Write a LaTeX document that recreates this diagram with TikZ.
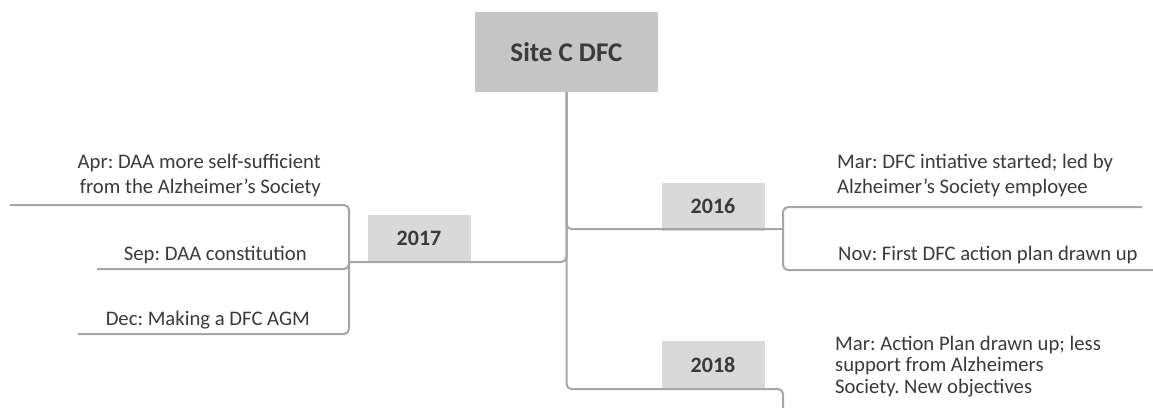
\documentclass[tikz,border=0pt]{standalone}
\usepackage{fontspec}
\setmainfont{Carlito}
\frenchspacing
\definecolor{txt}{HTML}{3A3A3A}
\definecolor{ln}{HTML}{A6A6A6}
\definecolor{rootfill}{HTML}{C6C6C6}
\definecolor{yearfill}{HTML}{D9D9D9}
\begin{document}
\begin{tikzpicture}[x=1pt,y=-1pt,
  conn/.style={draw=ln, line width=2pt, rounded corners=5pt},
  rootbox/.style={fill=rootfill, minimum width=183pt, minimum height=80pt, inner sep=0pt, font=\fontsize{27}{32}\selectfont\bfseries, text=txt},
  yearbox/.style={fill=yearfill, minimum width=103pt, minimum height=48pt, inner sep=0pt, font=\fontsize{22}{26}\selectfont\bfseries, text=txt},
  evtxt/.style={inner sep=0pt, font=\fontsize{20.7}{25}\selectfont, text=txt}]
\useasboundingbox (0,0) rectangle (1153,407);

% nodes
\node[rootbox] (root) at (566.5,52) {Site C DFC};
\node[yearbox] (y2017) at (419,238.5) {2017};
\node[yearbox] (y2016) at (713,206.5) {2016};
\node[yearbox] (y2018) at (713,365) {2018};

% coordinates
\coordinate (t17) at (349,262);
\coordinate (t16) at (783,229);
\coordinate (b18) at (783,389);
\coordinate (apr) at (10,205);
\coordinate (sep) at (97,269);
\coordinate (dec) at (78,334);
\coordinate (mar16) at (1142,207);
\coordinate (nov) at (1160,270);
\coordinate (mar18) at (783,415);

% connectors
\draw[conn] (root.south) |- (t17);
\draw[conn] (root.south) |- (t16);
\draw[conn] (root.south) |- (b18) -- (mar18);
\draw[conn] (t17) |- (apr);
\draw[conn] (t17) |- (sep);
\draw[conn] (t17) |- (dec);
\draw[conn] (t16) |- (mar16);
\draw[conn] (t16) |- (nov);

% texts
\node[evtxt, anchor=base east, align=right] (tapr) at (321,193) {Apr: DAA more self-sufficient\\from the Alzheimer's Society};
\node[evtxt, anchor=base east] (tsep) at (307,260) {Sep: DAA constitution};
\node[evtxt, anchor=base east] (tdec) at (310,325) {Dec: Making a DFC AGM};
\node[evtxt, anchor=base west, align=left] (tmar16) at (837,193) {Mar: DFC intiative started; led by\\Alzheimer's Society employee};
\node[evtxt, anchor=base west] (tnov) at (838,260) {Nov: First DFC action plan drawn up};
\node[evtxt, anchor=base west, align=left, font=\fontsize{20.7}{21.5}\selectfont] (tmar18) at (835,393) {Mar: Action Plan drawn up; less\\support from Alzheimers\\Society. New objectives};
\end{tikzpicture}
\end{document}
